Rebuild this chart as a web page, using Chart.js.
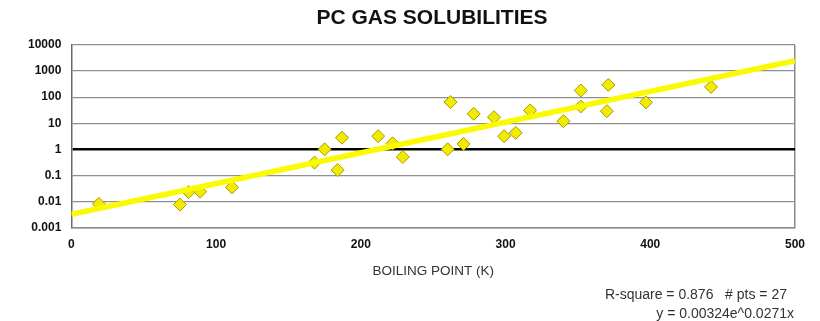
<!DOCTYPE html>
<html>
<head>
<meta charset="utf-8">
<script src="https://cdn.jsdelivr.net/npm/chart.js@4"></script>
<style>
  body { margin: 0; background: #fff; }
  #wrap { position: relative; width: 820px; height: 321px; font-family: Arial, "Liberation Sans", sans-serif; }
  #title { position: absolute; left: 0; top: 5px; width: 864px; text-align: center; font-weight: bold; font-size: 21px; line-height: 24px; color: #111; }
  .note { position: absolute; font-size: 14px; line-height: 18.5px; color: #333; white-space: pre; text-align: right; }
</style>
</head>
<body>
<div id="wrap">
  <canvas id="chart" width="820" height="321"></canvas>
  <div id="title">PC GAS SOLUBILITIES</div>
  <div class="note" style="right:33px;top:285px;">R-square = 0.876   # pts = 27</div>
  <div class="note" style="right:26px;top:303.5px;">y = 0.00324e^0.0271x</div>
</div>
<script>
// boiling point (K) vs solubility
const boilingPoints = [19, 75, 81, 89, 111, 168, 175, 184, 187, 212, 222, 229, 262, 260, 271, 278, 292, 299, 307, 317, 340, 352, 352, 371, 370, 397, 442];
const solubilities = [0.0081, 0.0076, 0.023, 0.024, 0.035, 0.31, 1.0, 0.16, 2.8, 3.2, 1.7, 0.51, 65, 1.0, 1.6, 23, 17, 3.2, 4.3, 31, 12, 180, 44, 295, 29, 63, 247];

// exponential trendline end points
const trendX = [0, 500];
const trendY = [0.00324, 2480];

const yTicks = [0.001, 0.01, 0.1, 1, 10, 100, 1000, 10000];
const yTickLabels = ['0.001', '0.01', '0.1', '1', '10', '100', '1000', '10000'];

const tickFont = { family: 'Arial, "Liberation Sans", sans-serif', size: 12, weight: 'bold' };

new Chart(document.getElementById('chart'), {
  type: 'scatter',
  data: {
    datasets: [
      {
        type: 'line',
        label: 'Trend',
        data: trendX.map((x, i) => ({ x, y: trendY[i] })),
        borderColor: '#fafa00',
        borderWidth: 5.5,
        pointRadius: 0,
        order: 0
      },
      {
        label: 'Gases',
        data: boilingPoints.map((x, i) => ({ x, y: solubilities[i] })),
        pointStyle: 'rectRot',
        pointRadius: 6.5,
        backgroundColor: '#f2ea00',
        borderColor: '#a89a00',
        borderWidth: 1,
        order: 1
      }
    ]
  },
  options: {
    responsive: false,
    animation: false,
    layout: { padding: { top: 45, left: 18, right: 25, bottom: 42 } },
    plugins: { legend: { display: false }, tooltip: { enabled: false } },
    scales: {
      x: {
        type: 'linear',
        min: 0, max: 500,
        ticks: { stepSize: 100, padding: 10, color: '#111', font: tickFont, maxRotation: 0 },
        grid: {
          drawTicks: false,
          color: ctx => ctx.tick && ctx.tick.value === 500 ? '#8a8a8a' : 'rgba(0,0,0,0)',
          lineWidth: 1.5
        },
        border: { color: '#8a8a8a', width: 1.5 },
        title: {
          display: true,
          text: 'BOILING POINT (K)',
          color: '#333',
          font: { family: 'Arial, "Liberation Sans", sans-serif', size: 13.5 },
          padding: { top: 0.8, bottom: 0 }
        }
      },
      y: {
        type: 'logarithmic',
        min: 0.001, max: 10000,
        afterBuildTicks: scale => { scale.ticks = yTicks.map(v => ({ value: v })); },
        ticks: { padding: 10, color: '#111', font: tickFont, callback: (v, i) => yTickLabels[i] },
        grid: {
          drawTicks: false,
          color: ctx => ctx.tick && ctx.tick.value === 1 ? '#000' : '#8f8f8f',
          lineWidth: ctx => ctx.tick && ctx.tick.value === 1 ? 2.5 : 1.2
        },
        border: { color: '#6a6a6a', width: 1.5 }
      }
    }
  }
});
</script>
</body>
</html>
